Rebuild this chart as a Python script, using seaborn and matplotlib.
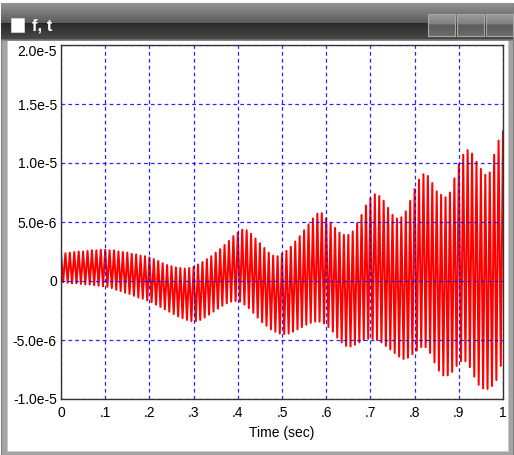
import numpy as np
import pandas as pd
import matplotlib
matplotlib.use("Agg")
import matplotlib.pyplot as plt
import seaborn as sns
from matplotlib.patches import Rectangle

# ---------------- data (values in units of 1e-6) ----------------
# upper peaks of the signal, read at t = 0.00, 0.01, ..., 1.00
upper_peaks = [2.3, 2.35, 2.4, 2.45, 2.5, 2.5, 2.55, 2.6, 2.6, 2.65,
               2.65, 2.6, 2.6, 2.5, 2.45, 2.4, 2.3, 2.25, 2.15, 2.1,
               2.0, 1.85, 1.7, 1.5, 1.35, 1.25, 1.15, 1.1, 1.05, 1.1,
               1.2, 1.4, 1.6, 1.85, 2.1, 2.4, 2.7, 3.05, 3.4, 3.8,
               4.1, 4.35, 4.3, 4.0, 3.6, 3.2, 2.8, 2.4, 2.15, 2.1,
               2.3, 2.55, 2.9, 3.35, 3.8, 4.3, 4.8, 5.3, 5.7, 5.75,
               5.3, 4.9, 4.5, 4.1, 3.9, 3.9, 4.2, 4.9, 5.6, 6.4,
               7.0, 7.35, 7.2, 6.8, 6.2, 5.6, 5.3, 5.4, 5.9, 6.8,
               7.8, 8.6, 9.05, 8.9, 8.3, 7.6, 7.3, 7.1, 7.5, 8.7,
               9.9, 10.7, 11.1, 10.8, 10.1, 9.5, 9.0, 9.2, 10.7, 11.9,
               12.7]
# lower peaks of the signal, read at t = 0.005, 0.015, ..., 0.995
lower_peaks = [-0.1, -0.15, -0.2, -0.2, -0.25, -0.3, -0.3, -0.35, -0.4, -0.45,
               -0.5, -0.6, -0.75, -0.85, -1.0, -1.1, -1.25, -1.4, -1.5, -1.65,
               -1.8, -2.0, -2.2, -2.4, -2.6, -2.8, -3.0, -3.15, -3.3, -3.4,
               -3.4, -3.3, -3.1, -2.85, -2.6, -2.35, -2.1, -1.9, -1.75, -1.7,
               -1.75, -2.0, -2.3, -2.7, -3.1, -3.5, -3.8, -4.1, -4.3, -4.45,
               -4.5, -4.45, -4.3, -4.1, -3.9, -3.7, -3.55, -3.45, -3.45, -3.6,
               -3.9, -4.3, -4.8, -5.2, -5.5, -5.55, -5.4, -5.2, -5.0, -4.9,
               -4.9, -5.0, -5.2, -5.5, -5.8, -6.1, -6.4, -6.6, -6.5, -6.2,
               -5.9, -5.6, -5.6, -6.1, -6.9, -7.6, -8.0, -8.0, -7.7, -7.2,
               -6.8, -6.8, -7.3, -8.1, -8.8, -9.1, -9.15, -8.9, -8.4, -7.2]
t_upper = np.round(np.arange(len(upper_peaks)) * 0.01, 4)
t_lower = np.round(np.arange(len(lower_peaks)) * 0.01 + 0.005, 4)

x_ticks = [0, .1, .2, .3, .4, .5, .6, .7, .8, .9, 1]
x_ticklabels = ["0", ".1", ".2", ".3", ".4", ".5", ".6", ".7", ".8", ".9", "1"]
y_ticks = [-1.0e-5, -5.0e-6, 0, 5.0e-6, 1.0e-5, 1.5e-5, 2.0e-5]
y_ticklabels = ["-1.0e-5", "-5.0e-6", "0", "5.0e-6", "1.0e-5", "1.5e-5", "2.0e-5"]
title_text = "f, t"
x_label = "Time (sec)"

# interleave peaks into one signal
df = pd.concat([
    pd.DataFrame({"t": t_upper, "f": np.array(upper_peaks) * 1e-6}),
    pd.DataFrame({"t": t_lower, "f": np.array(lower_peaks) * 1e-6}),
]).sort_values("t").reset_index(drop=True)

# ---------------- figure ----------------
sns.set_theme(style="white")
plt.rcParams["font.family"] = ["Liberation Sans", "DejaVu Sans"]

W, H = 514, 455
fig = plt.figure(figsize=(W / 100, H / 100), dpi=100)
fig.patch.set_facecolor("white")

def fbox(x0, y0, x1, y1):
    return [x0 / W, 1 - y1 / H, (x1 - x0) / W, (y1 - y0) / H]

# window frame (behind everything)
b = fbox(1, 3, 513, 455)
fig.patches.append(Rectangle((b[0], b[1]), b[2], b[3], transform=fig.transFigure,
                             facecolor="#a4a4a4", edgecolor="#808080", lw=0.8, zorder=-3))
b = fbox(7, 40, 508, 451)
fig.patches.append(Rectangle((b[0], b[1]), b[2], b[3], transform=fig.transFigure,
                             facecolor="white", edgecolor="#c8c8c8", lw=0.6, zorder=-2))

# title bar gradient
tb = fig.add_axes(fbox(1, 3, 513, 41))
tb.set_axis_off()
grad = np.concatenate([np.linspace(0.58, 0.36, 20), np.linspace(0.16, 0.28, 16),
                       np.linspace(0.42, 0.52, 2)])
tb.imshow(grad[:, None], cmap="gray", vmin=0, vmax=1, aspect="auto",
          extent=[0, 1, 0, 1], interpolation="bilinear")
tb.set_xlim(0, 1)
tb.set_ylim(0, 1)

# icon & title text
b = fbox(11, 18, 24, 32)
fig.patches.append(Rectangle((b[0], b[1]), b[2], b[3], transform=fig.transFigure,
                             facecolor="white", edgecolor="#dddddd", lw=0.5, zorder=5))
fig.text(32 / W, 1 - 26 / H, title_text, color="white", fontsize=12,
         fontweight="bold", va="center", ha="left", zorder=6)

# window buttons
for x0 in (428, 457, 486):
    bx = fig.add_axes(fbox(x0, 14, x0 + 27, 36))
    g = np.concatenate([np.linspace(0.62, 0.50, 11), np.linspace(0.36, 0.42, 11)])
    bx.imshow(g[:, None], cmap="gray", vmin=0, vmax=1, aspect="auto",
              extent=[0, 1, 0, 1], interpolation="bilinear")
    bx.set_xticks([])
    bx.set_yticks([])
    for s in bx.spines.values():
        s.set_color("#a8a8a8")
        s.set_linewidth(0.8)

# plot area
ax = fig.add_axes(fbox(61, 45, 503, 399))
ax.set_facecolor("white")
sns.lineplot(data=df, x="t", y="f", estimator=None, sort=False, color="#ff0000",
             lw=1.45, ax=ax, zorder=2)

ax.set_xlim(0, 1)
ax.set_ylim(-1.0e-5, 2.0e-5)
ax.set_xticks(x_ticks)
ax.set_xticklabels(x_ticklabels)
ax.set_yticks(y_ticks)
ax.set_yticklabels(y_ticklabels)
ax.tick_params(axis="both", length=0, labelsize=10, colors="#000000")
ax.tick_params(axis="y", pad=3)
ax.tick_params(axis="x", pad=5)
top_lab = ax.yaxis.get_ticklabels()[-1]
top_lab.set_va("top")
ax.set_xlabel(x_label, fontsize=10, labelpad=4, color="black")
ax.set_ylabel("")

ax.grid(True, color="#0000ff", linestyle=(0, (3, 2.5)), lw=0.9, alpha=0.85)
ax.set_axisbelow(False)
for gl in ax.get_xgridlines() + ax.get_ygridlines():
    gl.set_zorder(3)
for s in ax.spines.values():
    s.set_color("#333333")
    s.set_linewidth(1.0)
    s.set_zorder(4)

fig.savefig("out.png", dpi=100)
